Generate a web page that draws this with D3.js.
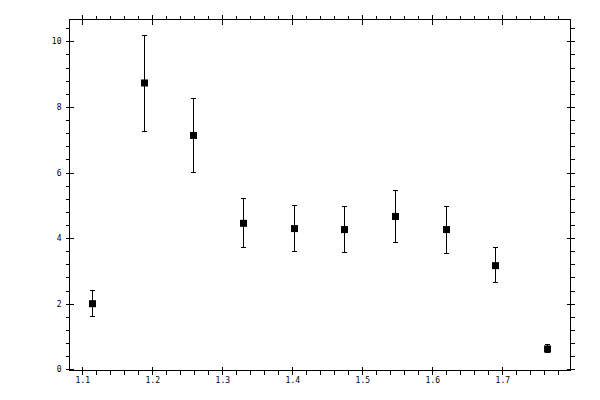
<!DOCTYPE html>
<html><head><meta charset="utf-8">
<script src="https://cdn.jsdelivr.net/npm/d3@7"></script>
<style>
body{margin:0;background:#fff;}
svg{display:block;}
text{font-family:"DejaVu Sans Mono",monospace;font-size:8px;fill:#000;}
</style></head><body>
<script>
const xValues = [1.1143, 1.1876, 1.2586, 1.3300, 1.4029, 1.4743, 1.5471, 1.6190, 1.6900, 1.7633];
const yValues = [2.00, 8.73, 7.13, 4.45, 4.29, 4.26, 4.66, 4.26, 3.16, 0.62];
const yLow    = [1.61, 7.25, 6.00, 3.71, 3.59, 3.56, 3.87, 3.53, 2.65, 0.50];
const yHigh   = [2.41, 10.19, 8.25, 5.21, 5.00, 4.95, 5.45, 4.95, 3.70, 0.75];
const xMajorTicks = [1.1, 1.2, 1.3, 1.4, 1.5, 1.6, 1.7];
const yMajorTicks = [0, 2, 4, 6, 8, 10];

const W = 600, H = 400;
const m = {left: 69.5, right: 570.5, top: 19.5, bottom: 370.5};
const x = d3.scaleLinear().domain([1.08171, 1.79743]).range([m.left, m.right]);
const y = d3.scaleLinear().domain([-0.037, 10.665]).range([m.bottom, m.top]);

const xMinor = d3.range(1.1, 1.797, 0.02).map(v => +v.toFixed(2)).filter(v => !xMajorTicks.some(t => Math.abs(t - v) < 1e-6));
const yMinor = d3.range(0, 10.6, 0.4).map(v => +v.toFixed(1)).filter(v => !yMajorTicks.some(t => Math.abs(t - v) < 1e-6));

const svg = d3.select("body").append("svg").attr("width", W).attr("height", H);
svg.append("rect").attr("width", W).attr("height", H).attr("fill", "#fff");

function addAxis(axis, tr, labels) {
  const g = svg.append("g").attr("transform", tr).call(axis);
  g.select(".domain").remove();
  g.selectAll("line").attr("stroke", "#000").attr("stroke-width", 1).attr("shape-rendering", "crispEdges");
  if (!labels) g.selectAll("text").remove();
  return g;
}
// bottom
addAxis(d3.axisBottom(x).tickValues(xMinor).tickSize(4).tickFormat(""), `translate(0,${m.bottom})`, false);
const bx = addAxis(d3.axisBottom(x).tickValues(xMajorTicks).tickSize(4).tickPadding(3).tickFormat(d3.format(".1f")), `translate(0,${m.bottom})`, true);
bx.attr("font-size", null).attr("font-family", null);
addAxis(d3.axisBottom(x).tickValues(xMajorTicks).tickSize(-4).tickFormat(""), `translate(0,${m.bottom})`, false);
// top
addAxis(d3.axisTop(x).tickValues(xMinor).tickSize(4).tickFormat(""), `translate(0,${m.top})`, false);
addAxis(d3.axisTop(x).tickValues(xMajorTicks).tickSize(5).tickFormat(""), `translate(0,${m.top})`, false);
addAxis(d3.axisTop(x).tickValues(xMajorTicks).tickSize(-5).tickFormat(""), `translate(0,${m.top})`, false);
// left
addAxis(d3.axisLeft(y).tickValues(yMinor).tickSize(4).tickFormat(""), `translate(${m.left},0)`, false);
const ly = addAxis(d3.axisLeft(y).tickValues(yMajorTicks).tickSize(4).tickPadding(4).tickFormat(d3.format("d")), `translate(${m.left},0)`, true);
ly.attr("font-size", null).attr("font-family", null);
addAxis(d3.axisLeft(y).tickValues(yMajorTicks).tickSize(-4).tickFormat(""), `translate(${m.left},0)`, false);
// right
addAxis(d3.axisRight(y).tickValues(yMinor).tickSize(4).tickFormat(""), `translate(${m.right},0)`, false);
addAxis(d3.axisRight(y).tickValues(yMajorTicks).tickSize(4).tickFormat(""), `translate(${m.right},0)`, false);
addAxis(d3.axisRight(y).tickValues(yMajorTicks).tickSize(-4).tickFormat(""), `translate(${m.right},0)`, false);

// frame
svg.append("rect").attr("x", m.left).attr("y", m.top)
  .attr("width", m.right - m.left).attr("height", m.bottom - m.top)
  .attr("fill", "none").attr("stroke", "#000").attr("stroke-width", 1).attr("shape-rendering", "crispEdges");

const data = xValues.map((v, i) => ({x: v, y: yValues[i], lo: yLow[i], hi: yHigh[i]}));
const g = svg.append("g").attr("stroke", "#000").attr("stroke-width", 1).attr("shape-rendering", "crispEdges");
const cap = 2.5;
g.selectAll(".eb").data(data).join("line")
  .attr("x1", d => Math.round(x(d.x)) + 0.5).attr("x2", d => Math.round(x(d.x)) + 0.5)
  .attr("y1", d => y(d.lo)).attr("y2", d => y(d.hi));
g.selectAll(".ct").data(data).join("line")
  .attr("x1", d => Math.round(x(d.x)) + 0.5 - cap).attr("x2", d => Math.round(x(d.x)) + 0.5 + cap)
  .attr("y1", d => y(d.hi)).attr("y2", d => y(d.hi));
g.selectAll(".cb").data(data).join("line")
  .attr("x1", d => Math.round(x(d.x)) + 0.5 - cap).attr("x2", d => Math.round(x(d.x)) + 0.5 + cap)
  .attr("y1", d => y(d.lo)).attr("y2", d => y(d.lo));
svg.append("g").selectAll("rect").data(data).join("rect")
  .attr("x", d => Math.round(x(d.x)) + 0.5 - 3.5).attr("y", d => y(d.y) - 3.5)
  .attr("width", 7).attr("height", 7).attr("fill", "#000");
</script>
</body></html>
